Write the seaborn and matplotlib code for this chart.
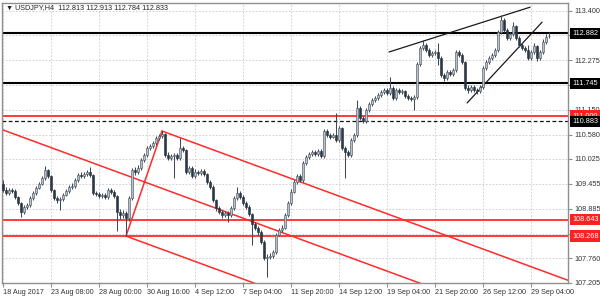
import numpy as np
import pandas as pd
import matplotlib
matplotlib.use("Agg")
import matplotlib.pyplot as plt
import matplotlib.transforms as mtransforms
import seaborn as sns

# ---------------- data (USDJPY H4 candles) ----------------
first_open = 109.46
closes = [
    109.32, 109.25, 109.32, 109.30, 109.16, 109.02, 108.82, 108.93, 108.98, 109.14,
    109.25, 109.37, 109.46, 109.59, 109.78, 109.64, 109.32, 109.14, 109.09, 109.12,
    109.21, 109.30, 109.39, 109.41, 109.55, 109.66, 109.64, 109.68, 109.73, 109.66,
    109.25, 109.23, 109.18, 109.21, 109.16, 109.32, 109.28, 109.18, 108.82, 108.75,
    108.80, 108.68, 109.14, 109.78, 109.73, 109.82, 110.00, 110.12, 110.28, 110.32,
    110.39, 110.50, 110.55, 110.59, 110.12, 110.05, 110.09, 110.12, 110.05, 110.28,
    110.23, 109.73, 109.82, 109.64, 109.73, 109.71, 109.75, 109.68, 109.50, 109.39,
    109.09, 108.91, 108.82, 108.75, 108.80, 108.75, 108.91, 109.14, 109.25, 109.16,
    109.02, 108.93, 108.77, 108.55, 108.46, 108.36, 108.14, 107.77, 107.80, 107.82,
    107.91, 108.30, 108.41, 108.46, 108.75, 109.02, 109.28, 109.50, 109.64, 109.55,
    109.93, 110.07, 110.14, 110.18, 110.14, 110.21, 110.09, 110.66, 110.57, 110.53,
    110.57, 110.46, 110.73, 110.28, 110.18, 110.12, 110.46, 110.57, 111.19, 110.96,
    110.89, 111.14, 111.28, 111.37, 111.41, 111.48, 111.55, 111.59, 111.53, 111.64,
    111.41, 111.59, 111.55, 111.57, 111.46, 111.41, 111.39, 111.44, 112.19, 112.55,
    112.62, 112.51, 112.39, 112.44, 112.46, 112.32, 111.94, 111.87, 112.00, 111.96,
    112.05, 112.46, 112.39, 112.23, 111.64, 111.59, 111.66, 111.59, 111.57, 111.66,
    112.09, 112.23, 112.32, 112.39, 112.51, 112.92, 113.19, 112.96, 112.78, 112.87,
    113.05, 112.78, 112.62, 112.55, 112.51, 112.32, 112.46, 112.60, 112.32, 112.46,
    112.69, 112.81, 112.833,
]
highs = [
    109.55, 109.38, 109.37, 109.36, 109.34, 109.19, 109.05, 108.97, 109.03, 109.18,
    109.29, 109.41, 109.50, 109.64, 109.86, 109.80, 109.67, 109.35, 109.18, 109.16,
    109.25, 109.34, 109.43, 109.47, 109.59, 109.71, 109.72, 109.73, 109.78, 109.84,
    109.69, 109.30, 109.27, 109.25, 109.26, 109.37, 109.36, 109.32, 109.21, 108.88,
    108.86, 108.84, 109.18, 109.82, 109.84, 109.88, 110.05, 110.17, 110.33, 110.37,
    110.44, 110.55, 110.60, 110.66, 110.62, 110.18, 110.14, 110.17, 110.16, 110.50,
    110.33, 110.26, 109.87, 109.86, 109.79, 109.78, 109.80, 109.79, 109.71, 109.54,
    109.42, 109.12, 108.95, 108.86, 108.85, 108.84, 108.96, 109.18, 109.39, 109.29,
    109.20, 109.06, 108.97, 108.80, 108.60, 108.50, 108.40, 108.17, 107.86, 107.88,
    107.96, 108.34, 108.46, 108.51, 108.80, 109.07, 109.33, 109.55, 109.69, 109.68,
    109.98, 110.12, 110.19, 110.23, 110.22, 110.26, 110.24, 110.70, 110.70, 110.62,
    110.62, 111.07, 110.78, 110.76, 110.32, 110.23, 110.50, 110.62, 111.37, 111.22,
    111.00, 111.19, 111.33, 111.42, 111.46, 111.53, 111.60, 111.64, 111.63, 111.89,
    111.68, 111.64, 111.63, 111.62, 111.60, 111.50, 111.45, 111.48, 112.23, 112.60,
    112.73, 112.66, 112.55, 112.49, 112.51, 112.66, 112.36, 111.99, 112.05, 112.05,
    112.10, 112.51, 112.50, 112.43, 112.26, 111.70, 111.71, 111.70, 111.63, 111.71,
    112.13, 112.28, 112.37, 112.44, 112.56, 112.97, 113.30, 113.23, 113.00, 112.92,
    113.14, 113.08, 112.82, 112.66, 112.59, 112.63, 112.51, 112.66, 112.63, 112.51,
    112.75, 112.86, 112.913,
]
lows = [
    109.28, 109.20, 109.21, 109.24, 109.12, 108.97, 108.70, 108.78, 108.88, 108.94,
    109.10, 109.21, 109.33, 109.42, 109.55, 109.60, 109.28, 109.08, 109.03, 108.86,
    109.07, 109.17, 109.26, 109.33, 109.37, 109.51, 109.59, 109.60, 109.64, 109.62,
    109.20, 109.18, 109.13, 109.14, 109.11, 109.12, 109.23, 109.13, 108.38, 108.66,
    108.68, 108.27, 108.62, 109.10, 109.67, 109.69, 109.78, 109.96, 110.08, 110.23,
    110.27, 110.35, 110.46, 110.50, 110.07, 109.99, 110.00, 109.59, 110.00, 110.01,
    110.18, 109.68, 109.68, 109.59, 109.60, 109.66, 109.66, 109.63, 109.45, 109.34,
    109.04, 108.85, 108.76, 108.68, 108.70, 108.59, 108.70, 108.87, 109.10, 109.11,
    108.97, 108.88, 108.72, 108.07, 108.40, 108.30, 108.08, 107.72, 107.34, 107.74,
    107.78, 107.87, 108.26, 108.37, 108.42, 108.71, 108.98, 109.24, 109.46, 109.50,
    109.51, 109.89, 110.03, 110.10, 110.09, 110.10, 110.04, 110.05, 110.52, 110.48,
    110.49, 110.42, 110.42, 110.23, 109.59, 110.06, 110.08, 110.42, 110.53, 110.90,
    110.84, 110.85, 111.10, 111.24, 111.32, 111.37, 111.44, 111.50, 111.48, 111.49,
    111.36, 111.37, 111.50, 111.51, 111.42, 111.37, 111.35, 111.14, 111.40, 112.15,
    112.50, 112.46, 112.34, 112.35, 112.40, 112.16, 111.89, 111.80, 111.83, 111.91,
    111.92, 112.01, 112.34, 112.18, 111.59, 111.53, 111.55, 111.54, 111.50, 111.53,
    111.62, 112.05, 112.19, 112.28, 112.35, 112.47, 112.88, 112.91, 112.73, 112.73,
    112.82, 112.73, 112.57, 112.50, 112.45, 112.27, 112.28, 112.42, 112.25, 112.28,
    112.42, 112.65, 112.784,
]
last_open = 112.813

date_labels = ["18 Aug 2017", "23 Aug 08:00", "28 Aug 00:00", "30 Aug 16:00",
               "4 Sep 12:00", "7 Sep 04:00", "11 Sep 20:00", "14 Sep 12:00",
               "19 Sep 04:00", "21 Sep 20:00", "26 Sep 12:00", "29 Sep 04:00"]
# grid levels; the ones hidden under price tags in the reference carry no label
price_ticks = [113.400, 112.845, 112.275, 111.710, 111.150, 110.580, 110.025,
               109.455, 108.885, 108.320, 107.760, 107.205]
price_tick_labels = ["113.400", "", "112.275", "", "111.150", "110.580", "110.025",
                     "109.455", "108.885", "", "107.760", "107.205"]

black_levels = [112.882, 111.745]
red_levels = [111.000, 108.643, 108.268]
dashed_level = 110.883

# trend / pitchfork lines: (bar, price) endpoint pairs
red_lines = {
    "handle": [(41, 108.268), (53, 110.66)],
    "upper": [(53, 110.66), (190, 107.22)],
    "median": [(-1, 110.71), (140, 107.17)],
    "lower": [(41, 108.268), (90, 107.04)],
}
black_lines = {
    "top": [(128.7, 112.46), (175.7, 113.48)],
    "bottom": [(154.7, 111.30), (179.7, 113.14)],
}

title_text = "\u25bc USDJPY,H4  112.813 112.913 112.784 112.833"

# ---------------- build frame ----------------
opens = [first_open] + closes[:-1]
opens[-1] = last_open
df = pd.DataFrame({"bar": np.arange(len(closes)), "open": opens,
                   "high": highs, "low": lows, "close": closes})

sns.set_theme(style="white")
plt.rcParams["font.family"] = ["Liberation Sans", "DejaVu Sans"]

W, H = 600, 300
fig = plt.figure(figsize=(6, 3), dpi=100)
ax = fig.add_axes([2 / W, 17 / H, 566 / W, 280 / H])
ax.set_facecolor("white")

ax.set_xlim(-0.33, 188.33)
ax.set_ylim(107.20, 113.575)

# grid
grid_kw = dict(color="#c9c9c9", lw=0.6, ls=(0, (2, 2)), zorder=0)
for p in price_ticks:
    ax.axhline(p, **grid_kw)
tick_bars = [16 * k for k in range(len(date_labels))]
for b in tick_bars:
    ax.axvline(b, **grid_kw)

# levels
for lv in red_levels:
    ax.axhline(lv, color="#ff2a2a", lw=1.3, zorder=2)
ax.axhline(dashed_level, color="#111111", lw=0.9, ls=(0, (3, 2)), zorder=2)
for lv in black_levels:
    ax.axhline(lv, color="#000000", lw=1.5, zorder=2)

# pitchfork & trend lines via seaborn
rows = []
for name, pts in red_lines.items():
    for b, p in pts:
        rows.append({"bar": b, "price": p, "line": name})
rl = pd.DataFrame(rows)
sns.lineplot(data=rl, x="bar", y="price", units="line", estimator=None,
             color="#ff2a2a", lw=1.1, sort=False, ax=ax, zorder=2)
rows = []
for name, pts in black_lines.items():
    for b, p in pts:
        rows.append({"bar": b, "price": p, "line": name})
bl = pd.DataFrame(rows)
sns.lineplot(data=bl, x="bar", y="price", units="line", estimator=None,
             color="#1a1a1a", lw=0.9, sort=False, ax=ax, zorder=2)

# candles
up = df["close"] >= df["open"]
wick_col = "#3f4a55"
ax.vlines(df["bar"], df["low"], df["high"], color=wick_col, lw=0.75, zorder=3)
body_bottom = np.minimum(df["open"], df["close"])
body_h = np.maximum(np.abs(df["close"] - df["open"]), 0.012)
ax.bar(df["bar"][up], body_h[up], bottom=body_bottom[up], width=0.8,
       color="#b9c0c7", edgecolor="#4f5a65", linewidth=0.45, zorder=4)
ax.bar(df["bar"][~up], body_h[~up], bottom=body_bottom[~up], width=0.8,
       color="#2b3743", edgecolor="#2b3743", linewidth=0.45, zorder=4)

ax.set_xlabel("")
ax.set_ylabel("")

# axes styling
for s in ax.spines.values():
    s.set_color("#8f8f8f")
    s.set_linewidth(1.0)
ax.yaxis.tick_right()
ax.set_yticks(price_ticks)
ax.set_yticklabels(price_tick_labels)
ax.set_xticks(tick_bars)
ax.set_xticklabels(date_labels)
ax.tick_params(axis="both", which="both", labelsize=5.2, colors="#8f8f8f",
               labelcolor="#333333", length=3, width=0.8, direction="out", pad=1.5)
ax.tick_params(axis="y", right=True, left=False)
ax.tick_params(axis="x", bottom=True)
for lab in ax.get_xticklabels():
    lab.set_horizontalalignment("left")

# price tags on right axis
trans = mtransforms.blended_transform_factory(ax.transAxes, ax.transData)
tags = [(lv, "#000000") for lv in black_levels] + \
       [(lv, "#ff2020") for lv in red_levels] + [(dashed_level, "#000000")]
for lv, col in tags:
    ax.text(1.0075, lv, f"{lv:.3f}", transform=trans, ha="left", va="center",
            fontsize=5.2, color="white", zorder=10, clip_on=False,
            bbox=dict(boxstyle="square,pad=0.3", fc=col, ec="none"))

fig.text(6 / W, 1 - 8 / H, title_text, fontsize=5.2, color="#222222",
         ha="left", va="center")

fig.savefig("out.png", dpi=100, facecolor="white")
